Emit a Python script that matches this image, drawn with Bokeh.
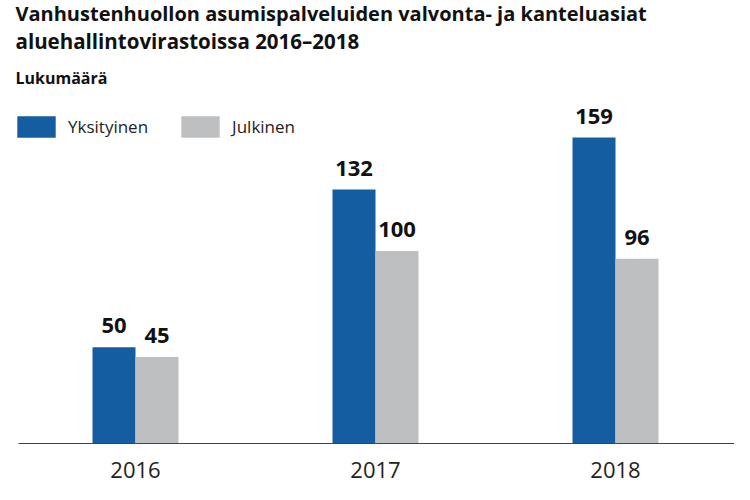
from bokeh.plotting import figure
from bokeh.models import (ColumnDataSource, Range1d, FixedTicker, LabelSet, Label,
                          Legend, LegendItem, LinearAxis)
from bokeh.core.properties import value
from bokeh.transform import dodge
from bokeh.embed import file_html
from bokeh.resources import INLINE

years = ["2016", "2017", "2018"]
yksityinen = [50, 132, 159]
julkinen = [45, 100, 96]
series_names = ["Yksityinen", "Julkinen"]
title_lines = ["Vanhustenhuollon asumispalveluiden valvonta- ja kanteluasiat",
               "aluehallintovirastoissa 2016\u20132018"]
unit_label = "Lukumäärä"

BLUE = "#145da0"
GREY = "#bebfc1"
FONT = "Open Sans"

xpos = [i + 0.5 for i in range(len(years))]
src = ColumnDataSource(dict(x=xpos, year=years, yks=yksityinen, jul=julkinen,
                            yks_t=[str(v) for v in yksityinen],
                            jul_t=[str(v) for v in julkinen]))

W, H = 734, 484
BOTTOM = 41
x0 = 0.5 - 135 / 240
p = figure(width=W, height=H, output_backend="svg", toolbar_location=None,
           x_range=Range1d(x0, x0 + W / 240),
           y_range=Range1d(0, (H - BOTTOM) / 1.924), x_axis_type=None, y_axis_type=None,
           min_border_left=0, min_border_right=0, min_border_top=0,
           min_border_bottom=BOTTOM)
p.outline_line_color = None
p.grid.visible = False
p.background_fill_color = "white"
p.border_fill_color = "white"

bw = 43 / 240
r1 = p.vbar(x=dodge("x", -bw / 2, range=p.x_range), top="yks", width=bw, source=src,
            fill_color=BLUE, line_color=None)
r2 = p.vbar(x=dodge("x", bw / 2, range=p.x_range), top="jul", width=bw, source=src,
            fill_color=GREY, line_color=None)

for col, txt, off in (("yks", "yks_t", -bw / 2), ("jul", "jul_t", bw / 2)):
    p.add_layout(LabelSet(x=dodge("x", off, range=p.x_range), y=col, text=txt, source=src,
                          y_offset=14, text_align="center", text_baseline="alphabetic",
                          text_font=value(FONT), text_font_size="22px",
                          text_font_style="bold", text_color="#111111"))

xaxis = LinearAxis(ticker=FixedTicker(ticks=xpos),
                   major_label_overrides={x: y for x, y in zip(xpos, years)},
                   bounds=(x0 + 18 / 240, x0 + 2 * W / 240))
xaxis.axis_line_color = "#444444"
xaxis.axis_line_width = 1.2
xaxis.major_tick_line_color = None
xaxis.minor_tick_line_color = None
xaxis.major_label_standoff = 12
xaxis.major_label_text_font = FONT
xaxis.major_label_text_font_size = "22px"
xaxis.major_label_text_color = "#222222"
p.add_layout(xaxis, "below")

frame_h = H - BOTTOM
def add_text(txt, x, y_canvas, size, style):
    p.add_layout(Label(x=x, y=frame_h - y_canvas, x_units="screen", y_units="screen",
                       text=txt, text_font=FONT, text_font_size=size,
                       text_font_style=style, text_color="#111111",
                       text_baseline="alphabetic"))

add_text(title_lines[0], 15, 13, "20px", "bold")
add_text(title_lines[1], 15, 40, "20.5px", "bold")
add_text(unit_label, 15, 77, "16px", "bold")

legend = Legend(items=[LegendItem(label=series_names[0], renderers=[r1]),
                       LegendItem(label=series_names[1], renderers=[r2])],
                location=(12, frame_h - 140), orientation="horizontal",
                glyph_width=48, glyph_height=27, label_standoff=8, spacing=28,
                padding=0, margin=0, border_line_alpha=0, background_fill_alpha=0,
                label_text_font=FONT, label_text_font_size="17px",
                label_text_color="#222222", label_height=27)
p.add_layout(legend)

open("out.html", "w").write(file_html(p, INLINE))
